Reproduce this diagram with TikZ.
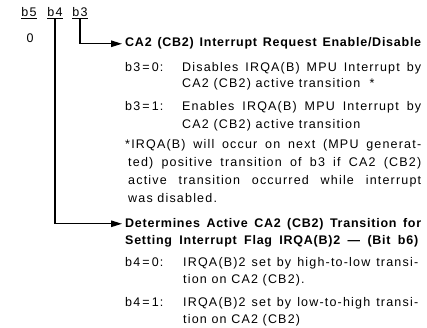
\documentclass[tikz,border=0pt]{standalone}
\usepackage{fontspec}
\setmainfont{Liberation Sans}
\newfontfamily\bodyf[LetterSpace=9.5]{Liberation Sans}
\newfontfamily\headf[LetterSpace=6]{Liberation Sans}
\usetikzlibrary{arrows.meta}
\newcommand\jline[2]{\makebox[#1][s]{#2}}
\begin{document}
\begin{tikzpicture}[x=1pt,y=1pt,
  txt/.style={inner sep=0pt, anchor=base west, font=\bodyf\fontsize{12.5}{14}\selectfont},
  hd/.style={txt, font=\headf\bfseries\fontsize{12.5}{14}\selectfont},
  bit/.style={txt, anchor=base},
  uline/.style={line width=1pt},
  conn/.style={line width=1.2pt, -{Triangle[length=11pt,width=6.5pt]}, shorten >=3pt}]
\useasboundingbox (0,0) rectangle (427,327);
% bit labels
\node[bit] (b5) at (29,310) {b5};
\node[bit] (b4) at (55,310) {b4};
\node[bit] (b3) at (80,310) {b3};
\foreach \n in {b5,b4,b3}{
  \draw[uline] ([yshift=-2pt]\n.base west) -- ([yshift=-2pt]\n.base east);}
\coordinate (u4) at ([yshift=-2pt]b4.base);
\coordinate (u3) at ([yshift=-2pt]b3.base);
\node[bit] (zero) at (30,284) {0};
% b3 block
\node[hd] (h3) at (125,280) {\jline{296pt}{CA2 (CB2) Interrupt Request Enable/Disable}};
\node[txt] (l30) at (125,255) {b3\,=\,0:};
\node[txt] (t30) at (182,255) {\jline{239pt}{Disables IRQA(B) MPU Interrupt by}};
\node[txt] (t30b) at (182,239) {CA2 (CB2) active transition\ \ *};
\node[txt] (l31) at (125,216) {b3\,=\,1:};
\node[txt] (t31) at (182,216) {\jline{239pt}{Enables IRQA(B) MPU Interrupt by}};
\node[txt] (t31b) at (182,199) {CA2 (CB2) active transition};
\node[txt] (f1) at (125,179) {\jline{296pt}{*IRQA(B) will occur on next (MPU generat-}};
\node[txt] (f2) at (128,161) {\jline{293pt}{ted) positive transition of b3 if CA2 (CB2)}};
\node[txt] (f3) at (128,143) {\jline{293pt}{active transition occurred while interrupt}};
\node[txt] (f4) at (128,125) {was disabled.};
% b4 block
\node[hd] (h4) at (125,100) {\jline{296pt}{Determines Active CA2 (CB2) Transition for}};
\node[hd] (h4b) at (125,83) {\jline{293pt}{Setting Interrupt Flag IRQA(B)2 \textemdash\ (Bit b6)}};
\node[txt] (l40) at (125,61) {b4\,=\,0:};
\node[txt] (t40) at (183,61) {\jline{235pt}{IRQA(B)2 set by high-to-low transi-}};
\node[txt] (t40b) at (183,44) {tion on CA2 (CB2).};
\node[txt] (l41) at (125,21) {b4\,=\,1:};
\node[txt] (t41) at (183,21) {\jline{235pt}{IRQA(B)2 set by low-to-high transi-}};
\node[txt] (t41b) at (183,4) {tion on CA2 (CB2)};
% connectors
\draw[conn] (u3) |- (h3.west);
\draw[conn] (u4) |- (h4.west);
\end{tikzpicture}
\end{document}
